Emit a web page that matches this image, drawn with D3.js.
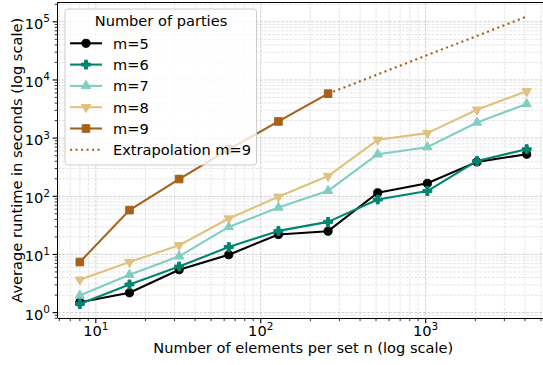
<!DOCTYPE html>
<meta charset="utf-8">
<style>
body { margin: 0; background: #fff; }
svg text { font-family: "DejaVu Sans", sans-serif; fill: #000; }
.grid-major { stroke: #c4c4c4; stroke-width: 0.8; stroke-dasharray: 3,1.3; }
.grid-minor { stroke: #dedede; stroke-width: 0.8; stroke-dasharray: 3,1.3; }
.spine { stroke: #000; stroke-width: 1.1; shape-rendering: crispEdges; }
</style>
<body>
<div id="chart"></div>
<script src="https://cdn.jsdelivr.net/npm/d3@7"></script>
<script>

// set sizes n (x axis)
var nValues = [8, 16, 32, 64, 128, 256, 512, 1024, 2048, 4096];

// average runtime in seconds, one array per number of parties
var m5 = [1.51, 2.19, 5.46, 9.9, 22, 25.1, 115, 167, 390, 529];
var m6 = [1.41, 3.05, 6.2, 13.4, 25.4, 36.3, 88, 123, 405, 646];
var m7 = [1.97, 4.48, 9.3, 29.7, 64, 124, 529, 699, 1860, 3870];
var m8 = [3.67, 7.4, 14.4, 41.5, 98, 223, 935, 1220, 3080, 6380];
var m9 = [7.4, 57.8, 198, 640, 1936, 5820];

// extrapolation of m=9 from the last measured point
var extrapN  = [256, 4096];
var extrapM9 = [5820, 123000];

var legendTitle = "Number of parties";
var xTickLabels = [10, 100, 1000];
var yTickLabels = [1, 10, 100, 1000, 10000, 100000];

var series = [
    {name: "m=5", values: m5, color: "#000000", symbol: "circle"},
    {name: "m=6", values: m6, color: "#018571", symbol: "plus"},
    {name: "m=7", values: m7, color: "#80cdc1", symbol: "up"},
    {name: "m=8", values: m8, color: "#dfc27d", symbol: "down"},
    {name: "m=9", values: m9, color: "#a6611a", symbol: "square"}
];

var chartWidth  = 543,
    chartHeight = 365,
    fontSize    = "14.6px";

// axes box (right edge falls just outside the picture, like the original)
var boxLeft = 57.5, boxRight = 549, boxTop = 2.2, boxBottom = 318.3;

var svg = d3.select("#chart").append("svg")
    .attr("width", chartWidth)
    .attr("height", chartHeight);

// matplotlib style 5% margins in log space
function logPad(lo, hi) {
    var a = Math.log10(lo), b = Math.log10(hi), m = (b - a) * 0.05;
    return [Math.pow(10, a - m), Math.pow(10, b + m)];
}

var allY = d3.merge([m5, m6, m7, m8, m9, extrapM9]);

var x = d3.scaleLog()
    .domain(logPad(d3.min(nValues), d3.max(nValues)))
    .range([boxLeft, boxRight]);

var y = d3.scaleLog()
    .domain(logPad(d3.min(allY), d3.max(allY)))
    .range([boxBottom, boxTop]);

function minorTicks(scale) {
    var d = scale.domain(), out = [];
    for (var e = Math.floor(Math.log10(d[0])); e <= Math.ceil(Math.log10(d[1])); e++) {
        for (var k = 2; k <= 9; k++) {
            var v = k * Math.pow(10, e);
            if (v >= d[0] && v <= d[1]) out.push(v);
        }
    }
    return out;
}

var xMinor = minorTicks(x), yMinor = minorTicks(y);

// grid
var grid = svg.append("g");
grid.selectAll(".gxm").data(xMinor).enter().append("line")
    .attr("class", "grid-minor")
    .attr("x1", d => x(d)).attr("x2", d => x(d))
    .attr("y1", boxTop).attr("y2", boxBottom);
grid.selectAll(".gym").data(yMinor).enter().append("line")
    .attr("class", "grid-minor")
    .attr("x1", boxLeft).attr("x2", boxRight)
    .attr("y1", d => y(d)).attr("y2", d => y(d));
grid.selectAll(".gx").data(xTickLabels).enter().append("line")
    .attr("class", "grid-major")
    .attr("x1", d => x(d)).attr("x2", d => x(d))
    .attr("y1", boxTop).attr("y2", boxBottom);
grid.selectAll(".gy").data(yTickLabels).enter().append("line")
    .attr("class", "grid-major")
    .attr("x1", boxLeft).attr("x2", boxRight)
    .attr("y1", d => y(d)).attr("y2", d => y(d));

// markers
function markerPath(symbol) {
    if (symbol == "circle") return d3.symbol().type(d3.symbolCircle).size(52)();
    if (symbol == "plus")   return d3.symbol().type(d3.symbolCross).size(44)();
    if (symbol == "up")     return d3.symbol().type(d3.symbolTriangle).size(38)();
    if (symbol == "down")   return d3.symbol().type(d3.symbolTriangle).size(38)();
    return d3.symbol().type(d3.symbolSquare).size(58)();
}
function markerRotate(symbol) { return symbol == "down" ? " rotate(180)" : ""; }

var line = d3.line()
    .x(d => x(d[0]))
    .y(d => y(d[1]));

var plot = svg.append("g");

plot.append("path")
    .datum(d3.zip(extrapN, extrapM9))
    .attr("d", line)
    .attr("fill", "none")
    .attr("stroke", "#a6611a")
    .attr("stroke-width", 2.1)
    .attr("stroke-dasharray", "2.1,3.4");

series.forEach(function(s) {
    var pts = d3.zip(nValues.slice(0, s.values.length), s.values);
    var g = plot.append("g");
    g.append("path")
        .datum(pts)
        .attr("d", line)
        .attr("fill", "none")
        .attr("stroke", s.color)
        .attr("stroke-width", 2.1)
        .attr("stroke-linejoin", "round");
    g.selectAll("path.mk").data(pts).enter().append("path")
        .attr("class", "mk")
        .attr("d", markerPath(s.symbol))
        .attr("transform", d => "translate(" + x(d[0]) + "," + y(d[1]) + ")" + markerRotate(s.symbol))
        .attr("fill", s.color)
        .attr("stroke", s.color)
        .attr("stroke-width", 1);
});

// spines
svg.append("line").attr("class", "spine")
    .attr("x1", boxLeft).attr("x2", boxLeft).attr("y1", boxTop).attr("y2", boxBottom);
svg.append("line").attr("class", "spine")
    .attr("x1", boxLeft).attr("x2", boxRight).attr("y1", boxBottom).attr("y2", boxBottom);
svg.append("line").attr("class", "spine")
    .attr("x1", boxLeft).attr("x2", boxRight).attr("y1", boxTop).attr("y2", boxTop);

// ticks
var ticks = svg.append("g").attr("stroke", "#000");
ticks.selectAll(".txM").data(xTickLabels).enter().append("line")
    .attr("x1", d => x(d)).attr("x2", d => x(d))
    .attr("y1", boxBottom).attr("y2", boxBottom + 4.9).attr("stroke-width", 1.1);
ticks.selectAll(".txm").data(xMinor).enter().append("line")
    .attr("x1", d => x(d)).attr("x2", d => x(d))
    .attr("y1", boxBottom).attr("y2", boxBottom + 2.8).attr("stroke-width", 0.8);
ticks.selectAll(".tyM").data(yTickLabels).enter().append("line")
    .attr("x1", boxLeft - 4.9).attr("x2", boxLeft)
    .attr("y1", d => y(d)).attr("y2", d => y(d)).attr("stroke-width", 1.1);
ticks.selectAll(".tym").data(yMinor).enter().append("line")
    .attr("x1", boxLeft - 2.8).attr("x2", boxLeft)
    .attr("y1", d => y(d)).attr("y2", d => y(d)).attr("stroke-width", 0.8);

function powLabel(sel) {
    sel.append("tspan").text("10");
    sel.append("tspan")
        .attr("dy", -6.5)
        .style("font-size", "10.5px")
        .text(d => Math.round(Math.log10(d)));
}

svg.selectAll(".xl").data(xTickLabels).enter().append("text")
    .attr("x", d => x(d))
    .attr("y", 336)
    .attr("text-anchor", "middle")
    .style("font-size", fontSize)
    .call(powLabel);

svg.selectAll(".yl").data(yTickLabels).enter().append("text")
    .attr("x", 50)
    .attr("y", d => y(d) + 7)
    .attr("text-anchor", "end")
    .style("font-size", fontSize)
    .call(powLabel);

// axis titles
svg.append("text")
    .attr("x", (boxLeft + boxRight) / 2)
    .attr("y", 353)
    .attr("text-anchor", "middle")
    .style("font-size", fontSize)
    .text("Number of elements per set n (log scale)");

svg.append("text")
    .attr("transform", "translate(22," + (boxTop + boxBottom) / 2 + ") rotate(-90)")
    .attr("text-anchor", "middle")
    .style("font-size", fontSize)
    .text("Average runtime in seconds (log scale)");

// legend
var lg = svg.append("g").attr("transform", "translate(65,9)");
lg.append("rect")
    .attr("width", 191.5).attr("height", 156)
    .attr("rx", 3)
    .attr("fill", "#fff").attr("fill-opacity", 0.8)
    .attr("stroke", "#cccccc").attr("stroke-width", 1);
lg.append("text")
    .attr("x", 96).attr("y", 16.5)
    .attr("text-anchor", "middle")
    .style("font-size", fontSize)
    .text(legendTitle);

var entries = series.map(s => ({name: s.name, color: s.color, symbol: s.symbol, dotted: false}));
entries.push({name: "Extrapolation m=9", color: "#a6611a", symbol: null, dotted: true});

var rowH = 21.3;
var items = lg.selectAll(".item").data(entries).enter().append("g")
    .attr("transform", (d, i) => "translate(0," + (34.3 + i * rowH) + ")");
items.append("line")
    .attr("x1", 5).attr("x2", 37)
    .attr("stroke", d => d.color)
    .attr("stroke-width", 2.1)
    .attr("stroke-dasharray", d => d.dotted ? "2.1,3.4" : null);
items.filter(d => d.symbol).append("path")
    .attr("d", d => markerPath(d.symbol))
    .attr("transform", d => "translate(21,0)" + markerRotate(d.symbol))
    .attr("fill", d => d.color)
    .attr("stroke", d => d.color)
    .attr("stroke-width", 1);
items.append("text")
    .attr("x", 48).attr("y", 5.3)
    .style("font-size", fontSize)
    .text(d => d.name);

</script>
</body>
